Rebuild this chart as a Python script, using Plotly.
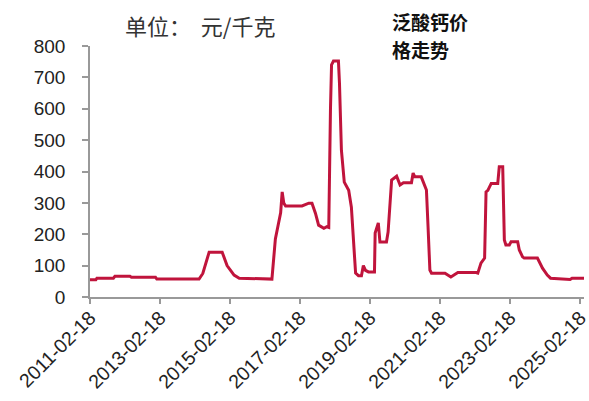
import plotly.graph_objects as go

# 泛酸钙价格（元/千克）
dates = [
    "2011-02-18", "2011-04-20", "2011-05-01", "2011-10-20", "2011-11-05",
    "2012-04-10", "2012-04-25", "2013-01-01", "2013-01-15", "2014-04-01",
    "2014-05-10", "2014-06-10", "2014-07-15", "2014-11-28", "2015-01-18",
    "2015-04-01", "2015-05-25", "2016-04-30", "2016-05-10", "2016-06-05",
    "2016-07-30", "2016-08-15", "2016-09-01", "2016-09-20", "2017-03-10",
    "2017-05-20", "2017-06-22", "2017-07-28", "2017-08-30", "2017-10-24",
    "2017-11-25", "2017-12-14", "2018-01-01", "2018-01-12", "2018-02-01",
    "2018-03-25", "2018-04-05", "2018-04-15", "2018-04-25", "2018-05-25",
    "2018-07-10", "2018-08-07", "2018-08-30", "2018-09-20", "2018-10-20",
    "2018-11-20", "2018-12-10", "2019-01-01", "2019-02-01", "2019-04-05",
    "2019-04-12", "2019-05-15", "2019-06-01", "2019-08-08", "2019-08-25",
    "2019-09-15", "2019-10-01", "2019-11-22", "2019-12-28", "2020-02-01",
    "2020-04-25", "2020-05-12", "2020-05-30", "2020-08-05", "2020-08-25",
    "2020-09-28", "2020-10-15", "2020-11-03", "2020-11-20", "2020-12-05",
    "2020-12-28", "2021-04-10", "2021-06-10", "2021-08-22", "2022-03-01",
    "2022-03-18", "2022-04-20", "2022-05-28", "2022-06-12", "2022-07-01",
    "2022-08-05", "2022-10-12", "2022-10-28", "2022-12-03", "2022-12-20",
    "2023-01-05", "2023-02-10", "2023-02-28", "2023-05-08", "2023-05-25",
    "2023-06-28", "2023-07-15", "2023-08-18", "2023-11-30", "2024-01-22",
    "2024-03-12", "2024-04-15", "2024-11-05", "2024-11-25", "2025-03-30",
]
prices = [
    55, 55, 60, 60, 66,
    66, 63, 63, 57, 57,
    75, 110, 143, 143, 100,
    70, 60, 57, 100, 185,
    268, 335, 299, 290, 290,
    299, 299, 267, 229, 219,
    224, 222, 600, 740, 752,
    752, 680, 570, 468, 366,
    340, 286, 172, 76, 68,
    68, 100, 85, 80, 80,
    204, 236, 175, 175, 207,
    290, 373, 385, 357, 364,
    364, 395, 383, 383, 367,
    341, 223, 86, 76, 76,
    76, 76, 64, 78, 78,
    76, 108, 124, 335, 340,
    362, 362, 415, 415, 182,
    166, 166, 176, 176, 150,
    128, 124, 124, 124, 92,
    70, 60, 56, 60, 60,
]

x_ticks = ["2011-02-18", "2013-02-18", "2015-02-18", "2017-02-18",
           "2019-02-18", "2021-02-18", "2023-02-18", "2025-02-18"]
y_ticks = [0, 100, 200, 300, 400, 500, 600, 700, 800]

fig = go.Figure()
fig.add_trace(go.Scatter(
    x=dates, y=prices, mode="lines",
    line=dict(color="#C0143C", width=3),
    hoverinfo="skip", showlegend=False,
))

sans = "Liberation Sans, Arial, sans-serif"

fig.update_layout(
    width=589, height=401,
    margin=dict(l=90, r=5, t=46, b=104),
    paper_bgcolor="white", plot_bgcolor="white",
    font=dict(family=sans, size=19, color="#222222"),
    xaxis=dict(
        type="date",
        range=["2011-02-18", "2025-03-30"],
        tickvals=x_ticks, ticktext=x_ticks,
        tickangle=-45,
        showgrid=False, zeroline=False,
        showline=True, linecolor="#999999", linewidth=1.5,
        ticks="outside", ticklen=5, tickcolor="#999999", tickwidth=1.5,
        tickfont=dict(family=sans, size=19.5, color="#222222"),
        ticklabeloverflow="allow",
        ticklabelstandoff=-5,
        automargin=False,
    ),
    yaxis=dict(
        range=[0, 800],
        tickvals=y_ticks,
        showgrid=False, zeroline=False,
        showline=True, linecolor="#999999", linewidth=1.5,
        ticks="outside", ticklen=6, tickcolor="#999999", tickwidth=1.5,
        tickfont=dict(family=sans, size=19, color="#222222"),
        ticklabelstandoff=13,
        automargin=False,
    ),
)

cjk = "Noto Sans CJK SC"
fig.add_annotation(
    text="单位：  元/千克", xref="paper", yref="paper",
    x=(123 - 90) / 494, y=1 + (46 - 25) / 251,
    xanchor="left", yanchor="middle", showarrow=False,
    font=dict(family=cjk, size=22, color="#333333"),
)
fig.add_annotation(
    text="<b>泛酸钙价</b>", xref="paper", yref="paper",
    x=(390 - 90) / 494, y=1 + (46 - 21) / 251,
    xanchor="left", yanchor="middle", showarrow=False,
    font=dict(family=cjk, size=19, color="#111111"),
)
fig.add_annotation(
    text="<b>格走势</b>", xref="paper", yref="paper",
    x=(390 - 90) / 494, y=1 + (46 - 49) / 251,
    xanchor="left", yanchor="middle", showarrow=False,
    font=dict(family=cjk, size=19, color="#111111"),
)

fig.write_html("out.html")
